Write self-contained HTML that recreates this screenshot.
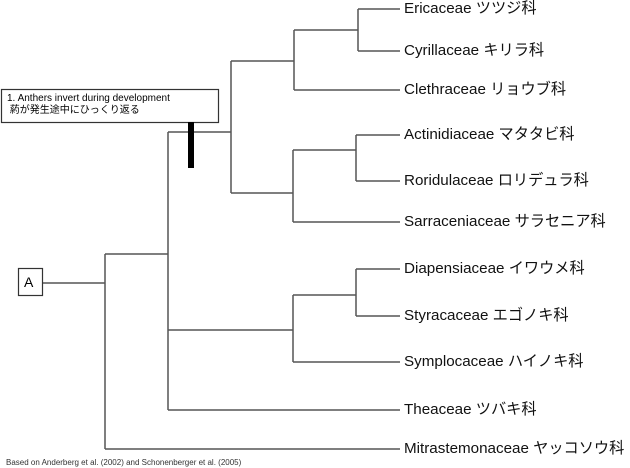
<!DOCTYPE html>
<html><head><meta charset="utf-8"><style>
body{margin:0;width:630px;height:468px;background:#fff;overflow:hidden;position:relative;font-family:"Liberation Sans","Noto Sans CJK JP",sans-serif}
.l{position:absolute;left:404px;font-size:15.2px;color:#111;white-space:nowrap;line-height:18px}
</style></head><body>
<svg width="630" height="468" style="position:absolute;left:0;top:0" fill="none" stroke="#555" stroke-width="1.5">
<path d="M42 283H105M105 254V449M105 254H168M105 449H400"/>
<path d="M168 132V410M168 132H231M168 330H293M168 410H400"/>
<path d="M231 61V193M231 61H294M294 30V90M294 30H358M358 9V51M358 9H400M358 51H400M294 90H400"/>
<path d="M231 193H293M293 150V222M293 150H356M356 135V181M356 135H400M356 181H400M293 222H400"/>
<path d="M293 295V362M293 295H356M356 269V316M356 269H400M356 316H400M293 362H400"/>
<rect x="18.5" y="268.5" width="24" height="27" stroke="#333" stroke-width="1.2"/>
<rect x="1.5" y="89.5" width="217" height="33" stroke="#333" stroke-width="1.2" fill="#fff"/>
<rect x="188" y="122" width="6" height="46" fill="#000" stroke="none"/>
</svg>
<div style="position:absolute;left:24px;top:274px;font-size:14px">A</div>
<div style="position:absolute;left:7px;top:93px;font-size:10px;line-height:12px">1. Anthers invert during development<br>&nbsp;葯が発生途中にひっくり返る</div>
<div class="l" style="top:0px">Ericaceae ツツジ科</div>
<div class="l" style="top:42px">Cyrillaceae キリラ科</div>
<div class="l" style="top:81px">Clethraceae リョウブ科</div>
<div class="l" style="top:126px">Actinidiaceae マタタビ科</div>
<div class="l" style="top:172px">Roridulaceae ロリデュラ科</div>
<div class="l" style="top:213px">Sarraceniaceae サラセニア科</div>
<div class="l" style="top:260px">Diapensiaceae イワウメ科</div>
<div class="l" style="top:307px">Styracaceae エゴノキ科</div>
<div class="l" style="top:353px">Symplocaceae ハイノキ科</div>
<div class="l" style="top:401px">Theaceae ツバキ科</div>
<div class="l" style="top:440px">Mitrastemonaceae ヤッコソウ科</div>
<div style="position:absolute;left:6px;top:458px;font-size:8px;color:#333">Based on Anderberg et al. (2002) and Schonenberger et al. (2005)</div>
</body></html>
